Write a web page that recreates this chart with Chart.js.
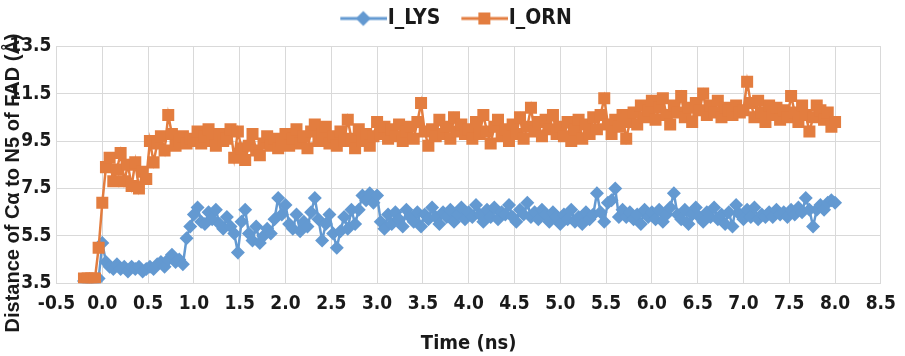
<!DOCTYPE html>
<html>
<head>
<meta charset="utf-8">
<script src="https://cdn.jsdelivr.net/npm/chart.js@4/dist/chart.umd.min.js"></script>
<style>
  html, body { margin: 0; padding: 0; background: #fff; }
  canvas { display: block; }
</style>
</head>
<body>
<canvas id="chart" width="905" height="356"></canvas>
<script>
const times = [
  -0.2, -0.16, -0.12, -0.08, -0.04,
  0, 0.04, 0.08, 0.12, 0.16, 0.2, 0.24, 0.28, 0.32, 0.36, 0.4, 0.44, 0.48, 0.52, 0.56, 0.6, 0.64, 0.68, 0.72, 0.76, 0.8, 0.84, 0.88, 0.92, 0.96,
  1, 1.04, 1.08, 1.12, 1.16, 1.2, 1.24, 1.28, 1.32, 1.36, 1.4, 1.44, 1.48, 1.52, 1.56, 1.6, 1.64, 1.68, 1.72, 1.76, 1.8, 1.84, 1.88, 1.92, 1.96,
  2, 2.04, 2.08, 2.12, 2.16, 2.2, 2.24, 2.28, 2.32, 2.36, 2.4, 2.44, 2.48, 2.52, 2.56, 2.6, 2.64, 2.68, 2.72, 2.76, 2.8, 2.84, 2.88, 2.92, 2.96,
  3, 3.04, 3.08, 3.12, 3.16, 3.2, 3.24, 3.28, 3.32, 3.36, 3.4, 3.44, 3.48, 3.52, 3.56, 3.6, 3.64, 3.68, 3.72, 3.76, 3.8, 3.84, 3.88, 3.92, 3.96,
  4, 4.04, 4.08, 4.12, 4.16, 4.2, 4.24, 4.28, 4.32, 4.36, 4.4, 4.44, 4.48, 4.52, 4.56, 4.6, 4.64, 4.68, 4.72, 4.76, 4.8, 4.84, 4.88, 4.92, 4.96,
  5, 5.04, 5.08, 5.12, 5.16, 5.2, 5.24, 5.28, 5.32, 5.36, 5.4, 5.44, 5.48, 5.52, 5.56, 5.6, 5.64, 5.68, 5.72, 5.76, 5.8, 5.84, 5.88, 5.92, 5.96,
  6, 6.04, 6.08, 6.12, 6.16, 6.2, 6.24, 6.28, 6.32, 6.36, 6.4, 6.44, 6.48, 6.52, 6.56, 6.6, 6.64, 6.68, 6.72, 6.76, 6.8, 6.84, 6.88, 6.92, 6.96,
  7, 7.04, 7.08, 7.12, 7.16, 7.2, 7.24, 7.28, 7.32, 7.36, 7.4, 7.44, 7.48, 7.52, 7.56, 7.6, 7.64, 7.68, 7.72, 7.76, 7.8, 7.84, 7.88, 7.92, 7.96,
  8
];

const lys = [
  3.6, 3.6, 3.6, 3.6, 3.7,
  5.2, 4.4, 4.2, 4.1, 4.3, 4.1, 4.2, 4.0, 4.2, 4.1, 4.2, 4.0, 4.1, 4.2, 4.1, 4.3, 4.4, 4.2, 4.5, 4.7, 4.4, 4.5, 4.3, 5.4, 5.9,
  6.4, 6.7, 6.1, 6.0, 6.5, 6.2, 6.6, 6.0, 5.8, 6.3, 5.9, 5.6, 4.8, 6.1, 6.6, 5.6, 5.3, 5.9, 5.2, 5.5, 5.8, 5.6, 6.2, 7.1, 6.4,
  6.8, 6.0, 5.8, 6.4, 5.7, 6.1, 5.9, 6.5, 7.1, 6.2, 5.3, 6.0, 6.4, 5.6, 5.0, 5.7, 6.3, 5.8, 6.6, 6.0, 6.6, 7.2, 7.0, 7.3, 6.9,
  7.2, 6.1, 5.8, 6.4, 6.0, 6.5, 6.2, 5.9, 6.6, 6.3, 6.1, 6.5, 5.9, 6.4, 6.2, 6.7, 6.3, 6.0, 6.5, 6.3, 6.6, 6.1, 6.4, 6.7, 6.2,
  6.5, 6.3, 6.8, 6.4, 6.1, 6.6, 6.3, 6.7, 6.2, 6.5, 6.4, 6.8, 6.3, 6.1, 6.6, 6.4, 6.9, 6.3, 6.5, 6.2, 6.6, 6.4, 6.1, 6.5, 6.3,
  6.0, 6.4, 6.2, 6.6, 6.1, 6.3, 6.0, 6.5, 6.2, 6.4, 7.3, 6.5, 6.1, 6.9, 7.0, 7.5, 6.3, 6.6, 6.3, 6.5, 6.2, 6.4, 6.0, 6.6, 6.3,
  6.5, 6.2, 6.6, 6.1, 6.4, 6.7, 7.3, 6.4, 6.2, 6.6, 6.0, 6.4, 6.7, 6.3, 6.1, 6.5, 6.3, 6.7, 6.2, 6.4, 6.0, 6.5, 5.9, 6.8, 6.4,
  6.2, 6.6, 6.3, 6.7, 6.2, 6.4, 6.3, 6.5, 6.3, 6.6, 6.4, 6.5, 6.3, 6.6, 6.4, 6.7, 6.5, 7.1, 6.6, 5.9, 6.6, 6.8, 6.6, 6.9, 7.0,
  6.9
];

const orn = [
  3.7, 3.7, 3.7, 3.7, 5.0,
  6.9, 8.4, 8.8, 7.8, 8.3, 9.0, 7.8, 8.5, 7.6, 8.6, 7.5, 8.2, 7.9, 9.5, 8.6, 9.4, 9.7, 9.1, 10.6, 9.8, 9.3, 9.5, 9.7, 9.4, 9.6,
  9.5, 9.9, 9.4, 9.7, 10.0, 9.5, 9.3, 9.8, 9.5, 9.6, 10.0, 8.8, 9.9, 9.2, 8.7, 9.3, 9.8, 9.1, 8.9, 9.4, 9.7, 9.3, 9.6, 9.2, 9.5,
  9.8, 9.3, 9.6, 10.0, 9.4, 9.7, 9.2, 9.9, 10.2, 9.5, 9.8, 10.1, 9.4, 9.7, 9.3, 9.9, 9.5, 10.4, 9.6, 9.2, 10.0, 9.5, 9.8, 9.3, 9.7,
  10.3, 9.8, 10.1, 9.6, 10.0, 9.7, 10.2, 9.5, 9.9, 10.1, 9.6, 10.3, 11.1, 9.9, 9.3, 10.0, 9.7, 10.4, 9.8, 10.1, 9.6, 10.5, 9.9, 10.2, 9.8,
  10.0, 9.6, 10.3, 9.8, 10.6, 9.9, 9.4, 10.1, 10.4, 9.7, 10.0, 9.5, 10.2, 9.8, 10.5, 9.6, 10.1, 10.9, 9.9, 10.3, 9.7, 10.4, 10.0, 10.6, 9.8,
  10.1, 9.7, 10.3, 9.5, 10.0, 10.4, 9.6, 10.2, 9.8, 10.5, 10.0, 10.6, 11.3, 10.2, 9.8, 10.4, 10.1, 10.6, 9.6, 10.3, 10.7, 10.2, 11.0, 10.5, 10.8,
  11.2, 10.4, 10.9, 11.3, 10.6, 10.2, 11.0, 10.7, 11.4, 10.5, 10.9, 10.3, 11.1, 10.8, 11.5, 10.6, 11.0, 10.7, 11.2, 10.5, 10.9, 10.8, 10.6, 11.0, 10.7,
  10.8, 12.0, 11.1, 10.5, 11.2, 10.7, 10.3, 11.0, 10.6, 10.9, 10.4, 10.8, 10.5, 11.4, 10.7, 10.3, 11.0, 10.6, 9.9, 10.5, 11.0, 10.8, 10.4, 10.7, 10.1,
  10.3
];

const seriesNames = ['I_LYS', 'I_ORN'];
const blue = '#6399d1';
const orange = '#e37d3f';
const narrow = '"Liberation Sans Narrow", "DejaVu Sans Condensed", "Liberation Sans", sans-serif';

// legend sample: line + marker. The image is wider than the legend box and is
// drawn centred on it, so the line can run right up to the label text.
function legendIcon(color, shape) {
  const c = document.createElement('canvas');
  c.width = 70; c.height = 18;
  const g = c.getContext('2d');
  g.strokeStyle = color; g.fillStyle = color; g.lineWidth = 3;
  g.beginPath(); g.moveTo(23, 9); g.lineTo(70, 9); g.stroke();
  g.beginPath();
  if (shape === 'diamond') {
    g.moveTo(46, 1.5); g.lineTo(53.5, 9); g.lineTo(46, 16.5); g.lineTo(38.5, 9);
  } else {
    g.rect(40, 3, 12, 12);
  }
  g.closePath(); g.fill();
  return c;
}
const icons = [legendIcon(blue, 'diamond'), legendIcon(orange, 'square')];

const yTitle = {
  id: 'yTitle',
  afterDraw(chart) {
    const ctx = chart.ctx;
    ctx.save();
    ctx.translate(13, 183);
    ctx.rotate(-Math.PI / 2);
    ctx.font = 'bold 20px "Liberation Sans", Arial, sans-serif';
    ctx.fillStyle = '#1a1a1a';
    ctx.textAlign = 'center';
    ctx.textBaseline = 'middle';
    ctx.fillText('Distance of C\u03b1 to N5 of FAD (\u00c5)', 0, 0);
    ctx.restore();
  }
};

new Chart(document.getElementById('chart'), {
  type: 'line',
  data: {
    datasets: [
      {
        label: seriesNames[0],
        data: times.map((t, i) => ({x: t, y: lys[i]})),
        borderColor: blue,
        backgroundColor: blue,
        borderWidth: 2.5,
        pointStyle: 'rectRot',
        pointRadius: 7,
        pointBorderWidth: 0,
        order: 1
      },
      {
        label: seriesNames[1],
        data: times.map((t, i) => ({x: t, y: orn[i]})),
        borderColor: orange,
        backgroundColor: orange,
        borderWidth: 2.5,
        pointStyle: 'rect',
        pointRadius: 8.5,
        pointBorderWidth: 0,
        order: 0
      }
    ]
  },
  options: {
    responsive: false,
    animation: false,
    layout: { padding: { top: 0, right: 16, bottom: 0, left: 10 } },
    plugins: {
      tooltip: { enabled: false },
      // thin empty block that keeps the gap between legend and plot
      subtitle: {
        display: true,
        text: ' ',
        font: { size: 1 },
        padding: 3
      },
      legend: {
        position: 'top',
        weight: 3000,
        labels: {
          usePointStyle: true,
          pointStyleWidth: 50,
          padding: 8,
          color: '#1a1a1a',
          font: { family: narrow, size: 21, weight: 'bold' },
          sort: (a, b) => a.datasetIndex - b.datasetIndex,
          generateLabels(chart) {
            const items = Chart.defaults.plugins.legend.labels.generateLabels(chart);
            items.forEach(it => { it.pointStyle = icons[it.datasetIndex]; });
            return items;
          }
        }
      }
    },
    scales: {
      x: {
        type: 'linear',
        min: -0.5,
        max: 8.5,
        afterFit(scale) { scale.height = 72.7; },
        grid: { color: '#d9d9d9', drawTicks: false },
        border: { color: '#d9d9d9' },
        ticks: {
          stepSize: 0.5,
          padding: 9,
          color: '#1a1a1a',
          font: { family: narrow, size: 19, weight: 'bold' },
          callback: v => v.toFixed(1)
        },
        title: {
          display: true,
          text: 'Time (ns)',
          color: '#1a1a1a',
          padding: { top: 4, bottom: 0 },
          font: { family: narrow, size: 20, weight: 'bold' }
        }
      },
      y: {
        min: 3.5,
        max: 13.5,
        afterFit(scale) { scale.width = 46.5; },
        grid: { color: '#d9d9d9', drawTicks: false },
        border: { color: '#d9d9d9' },
        ticks: {
          stepSize: 2,
          padding: 5,
          color: '#1a1a1a',
          font: { family: narrow, size: 19, weight: 'bold' },
          callback: v => v.toFixed(1)
        }
      }
    }
  },
  plugins: [yTitle]
});
</script>
</body>
</html>
